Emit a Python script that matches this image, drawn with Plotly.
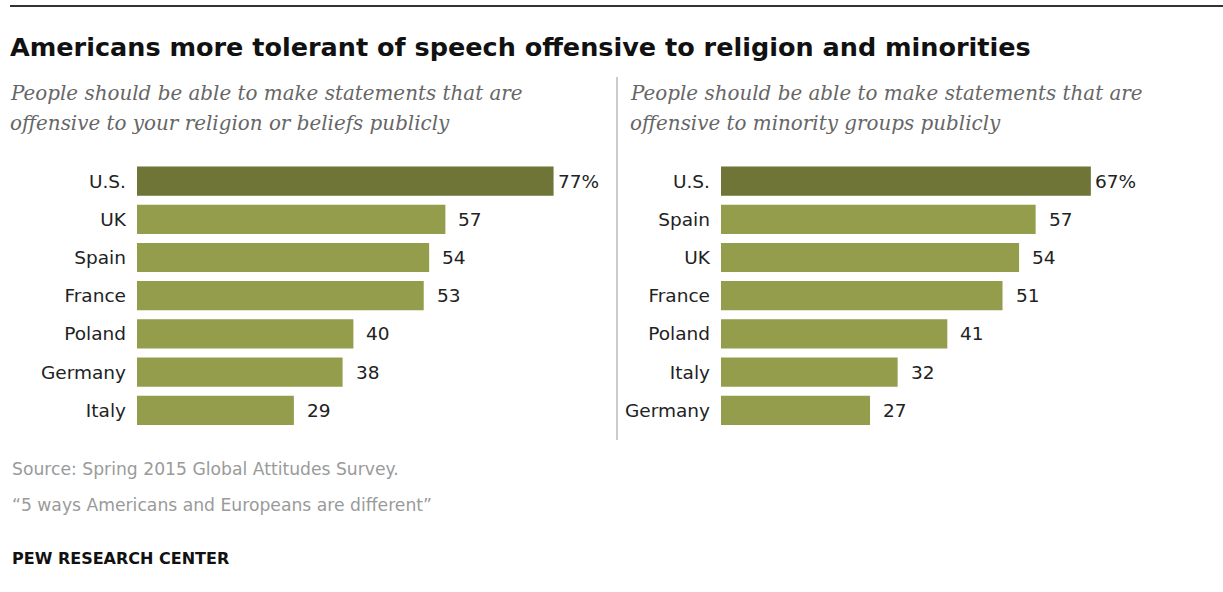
import plotly.graph_objects as go

W, H = 1223, 592

left_countries = ["U.S.", "UK", "Spain", "France", "Poland", "Germany", "Italy"]
left_values = [77, 57, 54, 53, 40, 38, 29]
right_countries = ["U.S.", "Spain", "UK", "France", "Poland", "Italy", "Germany"]
right_values = [67, 57, 54, 51, 41, 32, 27]

title = "Americans more tolerant of speech offensive to religion and minorities"
left_sub = ["People should be able to make statements that are",
            "offensive to your religion or beliefs publicly"]
right_sub = ["People should be able to make statements that are",
             "offensive to minority groups publicly"]
source = "Source: Spring 2015 Global Attitudes Survey."
note = "\u201c5 ways Americans and Europeans are different\u201d"
brand = "PEW RESEARCH CENTER"

DARK = "#6f7536"
LIGHT = "#949d4b"
SANS = "DejaVu Sans, Verdana, sans-serif"
LABEL_FONT = dict(family=SANS, size=18.5, color="#222")

def px(x):
    return x / W

def py(y):
    return 1 - y / H

fig = go.Figure()

def add_panel(countries, values, xa, ya):
    colors = [DARK] + [LIGHT] * (len(values) - 1)
    fig.add_trace(go.Bar(
        x=values, y=countries, orientation="h",
        marker=dict(color=colors, line=dict(width=0)),
        xaxis=xa, yaxis=ya, hoverinfo="skip", showlegend=False,
    ))
    for i, (c, v) in enumerate(zip(countries, values)):
        fig.add_annotation(
            x=v, y=c, xref=xa, yref=ya,
            text=f"{v}%" if i == 0 else str(v),
            showarrow=False, xanchor="left", yanchor="middle",
            xshift=2 if i == 0 else 11,
            font=LABEL_FONT,
        )

add_panel(left_countries, left_values, "x", "y")
add_panel(right_countries, right_values, "x2", "y2")

scale_l = 5.41
scale_r = 5.52
xr = 80
top_y, bot_y = 162.0, 429.4

axis_common = dict(showgrid=False, zeroline=False, showticklabels=False, showline=False, fixedrange=True)
yaxis_common = dict(
    showgrid=False, zeroline=False, showline=False, autorange="reversed",
    tickfont=LABEL_FONT, ticks="", ticklabelstandoff=10, fixedrange=True,
    domain=[py(bot_y), py(top_y)],
)

fig.update_layout(
    width=W, height=H,
    margin=dict(l=0, r=0, t=0, b=0),
    paper_bgcolor="white", plot_bgcolor="white",
    bargap=0.235,
    xaxis=dict(domain=[px(137), px(137 + scale_l * xr)], range=[0, xr], anchor="y", **axis_common),
    xaxis2=dict(domain=[px(721), px(721 + scale_r * xr)], range=[0, xr], anchor="y2", **axis_common),
    yaxis=dict(anchor="x", **yaxis_common),
    yaxis2=dict(anchor="x2", **yaxis_common),
)

# top rule
fig.add_shape(type="line", xref="paper", yref="paper", x0=px(10), x1=1, y0=py(6), y1=py(6),
              line=dict(color="#333333", width=2))
# divider
fig.add_shape(type="line", xref="paper", yref="paper", x0=px(617), x1=px(617), y0=py(77), y1=py(440),
              line=dict(color="#999999", width=1))

fig.add_annotation(x=px(8), y=py(47), xref="paper", yref="paper", text=f"<b>{title}</b>",
                   showarrow=False, xanchor="left", yanchor="middle",
                   font=dict(family=SANS, size=25.5, color="#111"))

sub_font = dict(family="DejaVu Serif, serif", size=19.9, color="#666666", style="italic")
for i, line in enumerate(left_sub):
    fig.add_annotation(x=px(8), y=py(93 + 31 * i), xref="paper", yref="paper", text=line,
                       showarrow=False, xanchor="left", yanchor="middle", font=sub_font)
for i, line in enumerate(right_sub):
    fig.add_annotation(x=px(628), y=py(93 + 31 * i), xref="paper", yref="paper", text=line,
                       showarrow=False, xanchor="left", yanchor="middle", font=sub_font)

foot_font = dict(family=SANS, size=17.2, color="#9a9a9a")
fig.add_annotation(x=px(10), y=py(469), xref="paper", yref="paper", text=source,
                   showarrow=False, xanchor="left", yanchor="middle", font=foot_font)
fig.add_annotation(x=px(10), y=py(505), xref="paper", yref="paper", text=note,
                   showarrow=False, xanchor="left", yanchor="middle", font=foot_font)
fig.add_annotation(x=px(10), y=py(558), xref="paper", yref="paper", text=f"<b>{brand}</b>",
                   showarrow=False, xanchor="left", yanchor="middle",
                   font=dict(family=SANS, size=16, color="#111"))

fig.write_html("out.html")
